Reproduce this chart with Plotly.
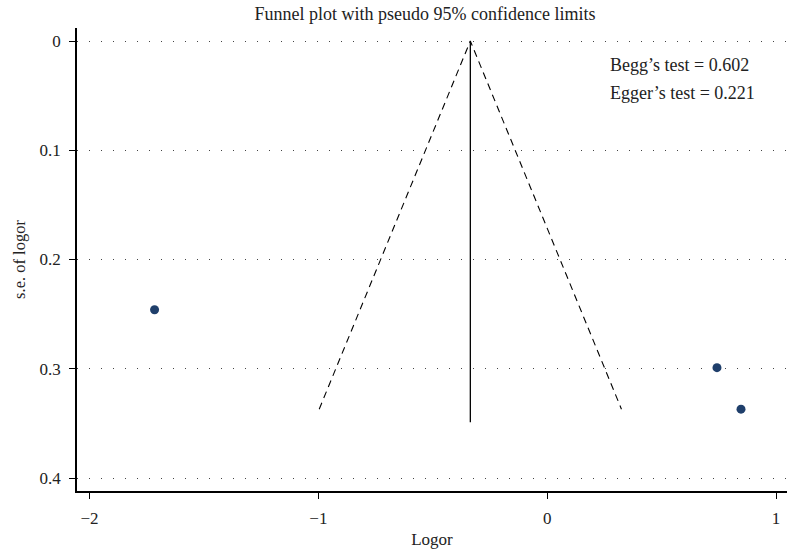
import plotly.graph_objects as go

# study data
logor = [-1.716, 0.742, 0.847]
se_logor = [0.246, 0.299, 0.337]

# pooled estimate and funnel extents
pooled_logor = -0.336
vline_bottom_se = 0.349
z95 = 1.96

x_ticks = [-2, -1, 0, 1]
x_tick_labels = ["\u22122", "\u22121", "0", "1"]
y_ticks = [0, 0.1, 0.2, 0.3, 0.4]
y_tick_labels = ["0", "0.1", "0.2", "0.3", "0.4"]
annotations_text = ["Begg\u2019s test = 0.602", "Egger\u2019s test = 0.221"]

FONT = "Liberation Serif"
TXT = "#222"
se_max = max(se_logor)

fig = go.Figure()

# pseudo 95% CI limits (dashed)
fig.add_trace(go.Scatter(
    x=[pooled_logor - z95 * se_max, pooled_logor, pooled_logor + z95 * se_max],
    y=[se_max, 0, se_max],
    mode="lines", line=dict(color="black", width=1.1, dash="7px,5px"),
    hoverinfo="skip", showlegend=False))
# pooled estimate (solid vertical)
fig.add_trace(go.Scatter(
    x=[pooled_logor, pooled_logor], y=[0, vline_bottom_se],
    mode="lines", line=dict(color="black", width=1.3),
    hoverinfo="skip", showlegend=False))
# studies
fig.add_trace(go.Scatter(
    x=logor, y=se_logor, mode="markers",
    marker=dict(color="#1f3f6b", size=9),
    showlegend=False))

fig.update_layout(
    width=787, height=554,
    margin=dict(l=77, r=0, t=28, b=63),
    paper_bgcolor="white", plot_bgcolor="white",
    font=dict(family=FONT, size=17, color=TXT),
    title=dict(text="Funnel plot with pseudo 95% confidence limits",
               x=0.54, xanchor="center", y=0.975, yanchor="middle",
               font=dict(family=FONT, size=18, color=TXT)),
    showlegend=False,
)

fig.update_xaxes(
    range=[-2.055, 1.048], tickvals=x_ticks, ticktext=x_tick_labels,
    ticks="outside", ticklen=6, tickwidth=1.2, tickcolor="black",
    ticklabelstandoff=5,
    showline=True, linecolor="black", linewidth=1.5,
    showgrid=False, zeroline=False, automargin=False,
    title=dict(text="Logor", font=dict(family=FONT, size=17, color=TXT), standoff=6),
    tickfont=dict(family=FONT, size=17, color=TXT),
)
fig.update_yaxes(
    range=[0.4119, -0.0119], tickvals=y_ticks, ticktext=y_tick_labels,
    ticks="outside", ticklen=6, tickwidth=1.2, tickcolor="black",
    ticklabelstandoff=5,
    showline=True, linecolor="black", linewidth=1.5,
    showgrid=True, gridcolor="#444", gridwidth=1, griddash="1px,11px",
    zeroline=False, automargin=False,
    title=dict(text="s.e. of logor", font=dict(family=FONT, size=16.5, color=TXT), standoff=10),
    tickfont=dict(family=FONT, size=17, color=TXT),
)

for i, t in enumerate(annotations_text):
    fig.add_annotation(
        text=t, xref="paper", yref="paper",
        x=0.748, y=0.92 - i * 0.06, xanchor="left", yanchor="middle",
        showarrow=False, font=dict(family=FONT, size=18, color=TXT))

fig.write_html("out.html", config={"displayModeBar": False},
               post_script="document.body.style.margin='0';document.body.style.overflow='hidden';")
